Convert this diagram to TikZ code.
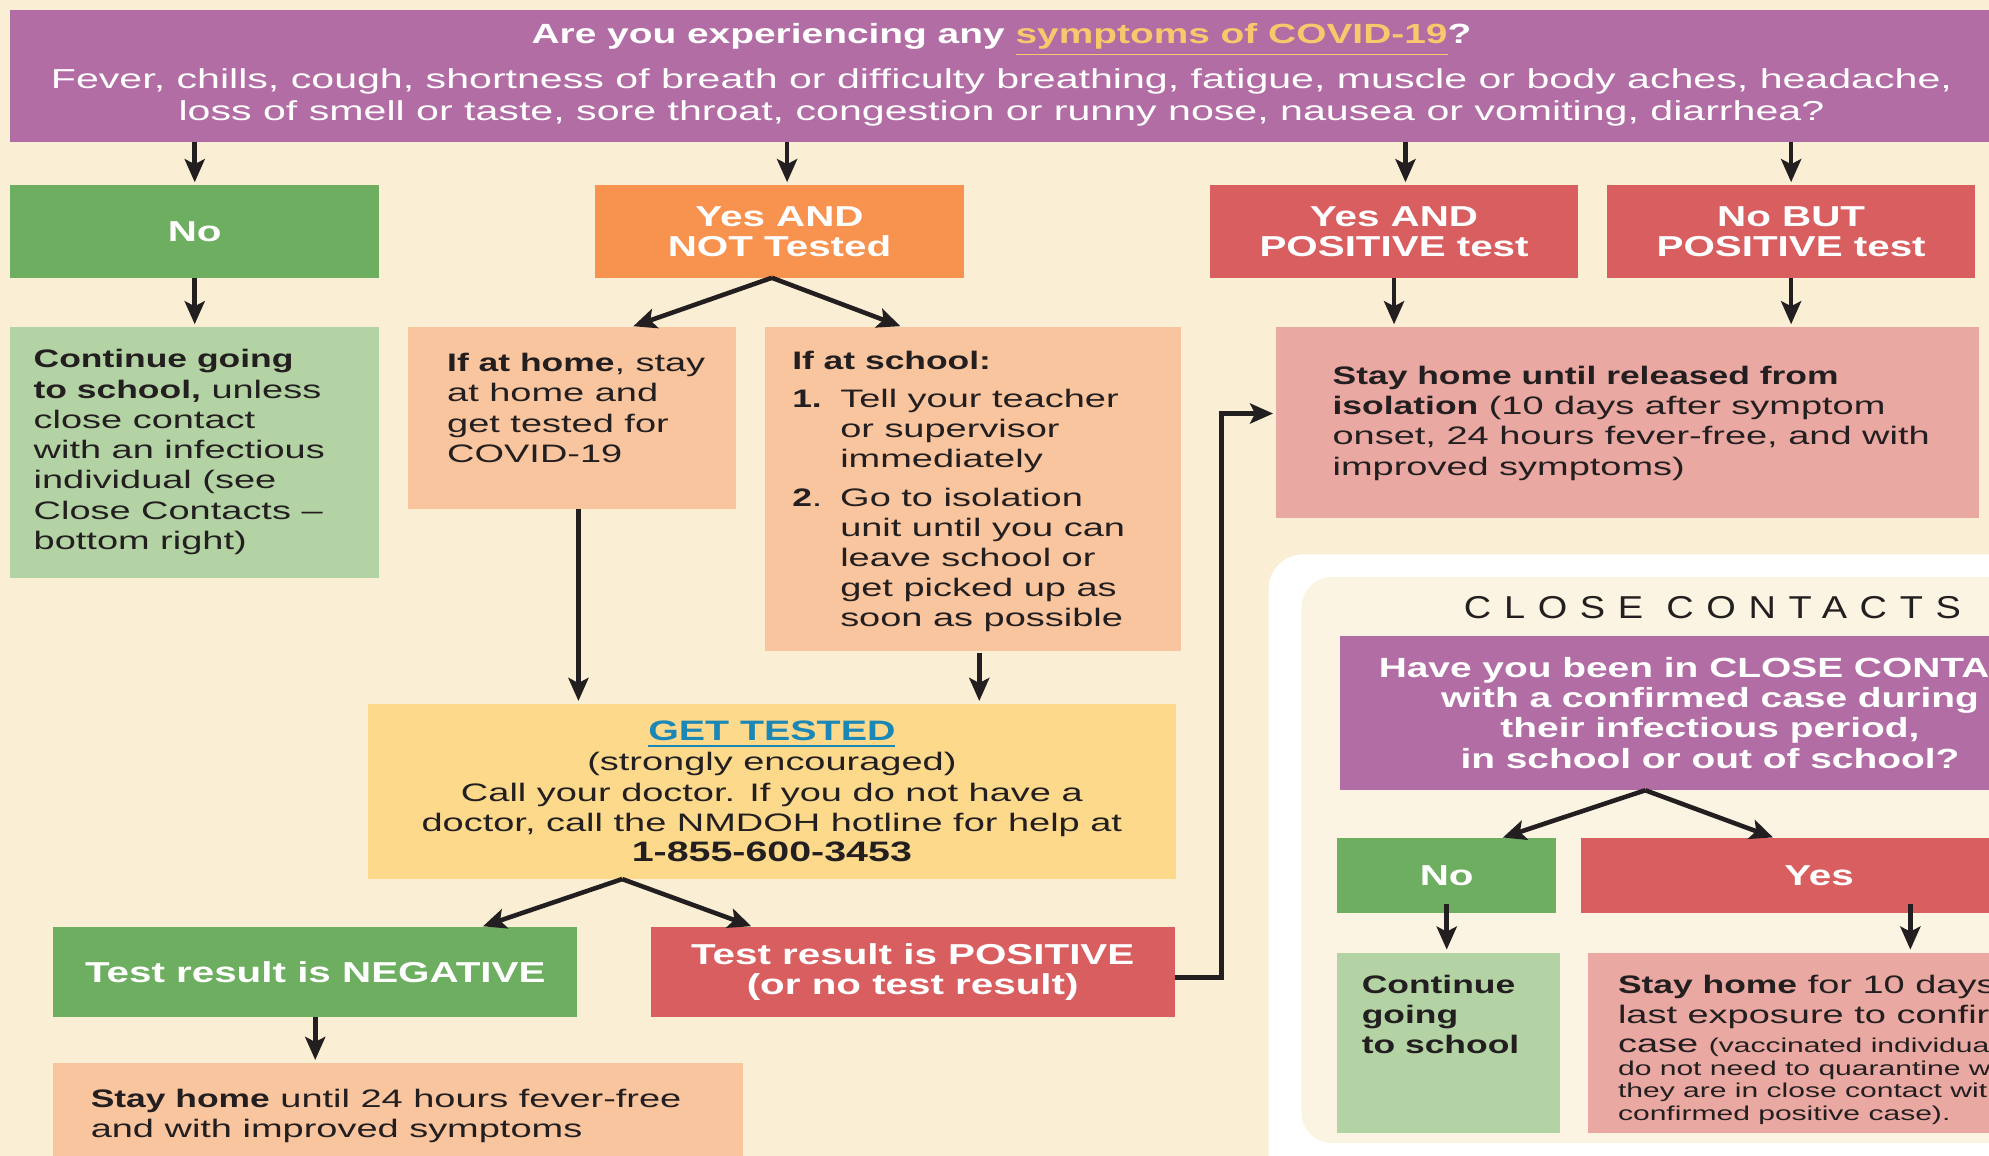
\documentclass[tikz,border=0pt]{standalone}
\usepackage{fontspec}
\setmainfont{Liberation Sans}[FakeStretch=1.5,BoldFeatures={FakeStretch=1.4}]
\newfontfamily\spacedfont{Liberation Sans}[FakeStretch=1.2,LetterSpace=40]
\usetikzlibrary{arrows.meta,positioning,fit,calc}

\definecolor{cream}{HTML}{FAEFD4}
\definecolor{creamin}{HTML}{FBF4E2}
\definecolor{plum}{HTML}{B16DA4}
\definecolor{leaf}{HTML}{6DAE60}
\definecolor{mint}{HTML}{B4D3A4}
\definecolor{tangerine}{HTML}{F7924F}
\definecolor{peach}{HTML}{F9C59F}
\definecolor{coral}{HTML}{D95E5F}
\definecolor{rose}{HTML}{E9A8A1}
\definecolor{butter}{HTML}{FDD98C}
\definecolor{gold}{HTML}{F9C86C}
\definecolor{link}{HTML}{1B87B6}
\definecolor{ink}{HTML}{231F20}

\newcommand\bodyfont{\fontsize{7.2}{8.6}\selectfont}
\newcommand\bannerfont{\fontsize{7.8}{9.1}\selectfont}
\newcommand\headfont{\bfseries\fontsize{8.2}{8.6}\selectfont}
\newcommand\tinyfont{\fontsize{5.7}{6.6}\selectfont}
\newlength\numind
\setlength\numind{4.8mm}

\tikzset{
  box/.style={inner sep=0pt, outer sep=0pt, fill=#1},
  headtxt/.style={inner sep=0pt, align=center, text=white, font=\headfont},
  note/.style={anchor=north west, inner sep=0pt, align=left, text=ink, font=\bodyfont},
  arr/.style={draw=ink, line width=1.3pt, shorten >=0.3mm, -{Stealth[length=2.3mm,width=2mm,inset=0.5mm]}},
}

\begin{document}
\begin{tikzpicture}[x=0.12685mm, y=-0.12685mm]
    \useasboundingbox (0,0) rectangle (1568,911);
    \clip (0,0) rectangle (1568,911);
    \fill[cream] (0,0) rectangle (1568,911);
    %% Close contacts panel
    \fill[white, rounded corners=3.5mm] (1000,437) rectangle (1660,960);
    \fill[creamin, rounded corners=3mm] (1026,455) rectangle (1660,901);
    \node[text=ink, font=\spacedfont\fontsize{9}{10}\selectfont] (cctitle) at (1350,479) {CLOSE CONTACTS};
    %% Question
    \node[box=plum, fit={(8,8) (1571,112)}] (symptoms) {};
    \node[headtxt, font=\bannerfont] (symptoms-txt) at ($(symptoms)+(0,-1)$)
        {{\bfseries\fontsize{7.9}{9}\selectfont Are you experiencing any \textcolor{gold}{\underline{symptoms of COVID-19}}?}\\[0.8mm]
         Fever, chills, cough, shortness of breath or difficulty breathing, fatigue, muscle or body aches, headache,\\
         loss of smell or taste, sore throat, congestion or runny nose, nausea or vomiting, diarrhea?};
    %% Answers
    \node[box=leaf, fit={(8,146) (299,219)}] (no1) {};
    \node[headtxt] (no1-txt) at (no1) {No};
    \node[box=tangerine, fit={(469,146) (760,219)}] (nottested) {};
    \node[headtxt] (nottested-txt) at (nottested) {Yes AND\\ NOT Tested};
    \node[box=coral, fit={(954,146) (1244,219)}] (yespos) {};
    \node[headtxt] (yespos-txt) at (yespos) {Yes AND\\ POSITIVE test};
    \node[box=coral, fit={(1267,146) (1557,219)}] (nobut) {};
    \node[headtxt] (nobut-txt) at (nobut) {No BUT\\ POSITIVE test};
    %% What to do
    \node[box=mint, fit={(8,258) (299,456)}] (cont) {};
    \node[note] (cont-txt) at ($(cont.north west)+(18,17)$)
        {\textbf{Continue going}\\ \textbf{to school,} unless\\ close contact\\ with an infectious\\ individual (see\\ Close Contacts --\\ bottom right)};
    \node[box=peach, fit={(322,258) (580,401)}] (athome) {};
    \node[note] (athome-txt) at ($(athome.north west)+(30,20)$)
        {\textbf{If at home}, stay\\ at home and\\ get tested for\\ COVID-19};
    \node[box=peach, fit={(603,258) (931,513)}] (atschool) {};
    \node[note] (atschool-txt) at ($(atschool.north west)+(21,18)$)
        {\textbf{If at school:}\\[0.8mm]
         \makebox[\numind][l]{\textbf{1.}}Tell your teacher\\
         \hspace*{\numind}or supervisor\\
         \hspace*{\numind}immediately\\[0.8mm]
         \makebox[\numind][l]{\textbf{2}.}Go to isolation\\
         \hspace*{\numind}unit until you can\\
         \hspace*{\numind}leave school or\\
         \hspace*{\numind}get picked up as\\
         \hspace*{\numind}soon as possible};
    \node[box=rose, fit={(1006,258) (1560,408)}] (isolation) {};
    \node[note] (isolation-txt) at ($(isolation.north west)+(44,30)$)
        {\textbf{Stay home until released from}\\ \textbf{isolation} (10 days after symptom\\ onset, 24 hours fever-free, and with\\ improved symptoms)};
    %% Testing
    \node[box=butter, fit={(290,555) (927,693)}] (gettested) {};
    \node[headtxt, text=ink, font=\bodyfont] (gettested-txt) at (gettested)
        {\textcolor{link}{\underline{\bfseries\fontsize{8}{8.6}\selectfont GET TESTED}}\\ (strongly encouraged)\\ Call your doctor. If you do not have a\\ doctor, call the NMDOH hotline for help at\\ {\bfseries\fontsize{8}{8.6}\selectfont 1-855-600-3453}};
    \node[box=leaf, fit={(42,731) (455,802)}] (negative) {};
    \node[headtxt] (negative-txt) at (negative) {Test result is NEGATIVE};
    \node[box=coral, fit={(513,731) (926,802)}] (positive) {};
    \node[headtxt] (positive-txt) at (positive) {Test result is POSITIVE\\ (or no test result)};
    \node[box=peach, fit={(42,838) (586,930)}] (stayhome) {};
    \node[note] (stayhome-txt) at ($(stayhome.north west)+(29,20)$)
        {\textbf{Stay home} until 24 hours fever-free\\ and with improved symptoms};
    %% Close contacts
    \node[box=plum, fit={(1056,501) (1640,623)}] (contactq) {};
    \node[headtxt, font=\bfseries\fontsize{7.9}{8.6}\selectfont] (contactq-txt) at (contactq)
        {Have you been in CLOSE CONTACT\\ with a confirmed case during\\ their infectious period,\\ in school or out of school?};
    \node[box=leaf, fit={(1054,661) (1227,720)}] (no2) {};
    \node[headtxt] (no2-txt) at (no2) {No};
    \node[box=coral, fit={(1246,661) (1622,720)}] (yes2) {};
    \node[headtxt] (yes2-txt) at (yes2) {Yes};
    \node[box=mint, fit={(1054,751) (1230,893)}] (cont2) {};
    \node[note, font=\bfseries\bodyfont] (cont2-txt) at ($(cont2.north west)+(19,17)$)
        {Continue\\ going\\ to school};
    \node[box=rose, fit={(1252,751) (1660,893)}] (stay10) {};
    \node[note] (stay10-txt) at ($(stay10.north west)+(23,17)$)
        {\textbf{Stay home} for 10 days after\\ last exposure to confirmed\\[-0.3pt] case {\tinyfont(vaccinated individuals}\\[-2.2pt]
         {\tinyfont do not need to quarantine when}\\[-2.2pt]
         {\tinyfont they are in close contact with a}\\[-2.2pt]
         {\tinyfont confirmed positive case).}};
    %% Arrows
    \draw[arr] (symptoms.south -| no1.north) -- (no1.north);
    \draw[arr] ($(symptoms.south -| nottested.north)+(6,0)$) -- ($(nottested.north)+(6,0)$);
    \draw[arr] ($(symptoms.south -| yespos.north)+(9,0)$) -- ($(yespos.north)+(9,0)$);
    \draw[arr] (symptoms.south -| nobut.north) -- (nobut.north);
    \draw[arr] (no1.south) -- (no1.south |- cont.north);
    \draw[arr] ($(nottested.south)+(-6,0)$) -- ($(athome.north)+(46,0)$);
    \draw[arr] ($(nottested.south)+(-6,0)$) -- ($(atschool.north)+(-55,0)$);
    \draw[arr] (yespos.south) -- (yespos.south |- isolation.north);
    \draw[arr] (nobut.south) -- (nobut.south |- isolation.north);
    \draw[arr] ($(athome.south)+(5,0)$) -- ($(athome.south |- gettested.north)+(5,0)$);
    \draw[arr] ($(atschool.south)+(5,2)$) -- ($(atschool.south |- gettested.north)+(5,0)$);
    \draw[arr] ($(gettested.south)+(-118,0)$) -- ($(negative.north)+(130,0)$);
    \draw[arr] ($(gettested.south)+(-118,0)$) -- ($(positive.north)+(-125,0)$);
    \draw[arr] ($(positive.east)+(0,4)$) -- ++(37,0) |- ($(isolation.west)+(0,-7)$);
    \draw[arr] (negative.south) -- (negative.south |- stayhome.north);
    \draw[arr] ($(contactq.south)+(-51,0)$) -- ($(no2.north)+(42,0)$);
    \draw[arr] ($(contactq.south)+(-51,0)$) -- ($(yes2.north)+(-34,0)$);
    \draw[arr] ($(no2.south)+(0,-7)$) -- (no2.south |- cont2.north);
    \draw[arr] ($(yes2.south)+(72,-7)$) -- ($(yes2.south |- stay10.north)+(72,0)$);
\end{tikzpicture}
\end{document}
